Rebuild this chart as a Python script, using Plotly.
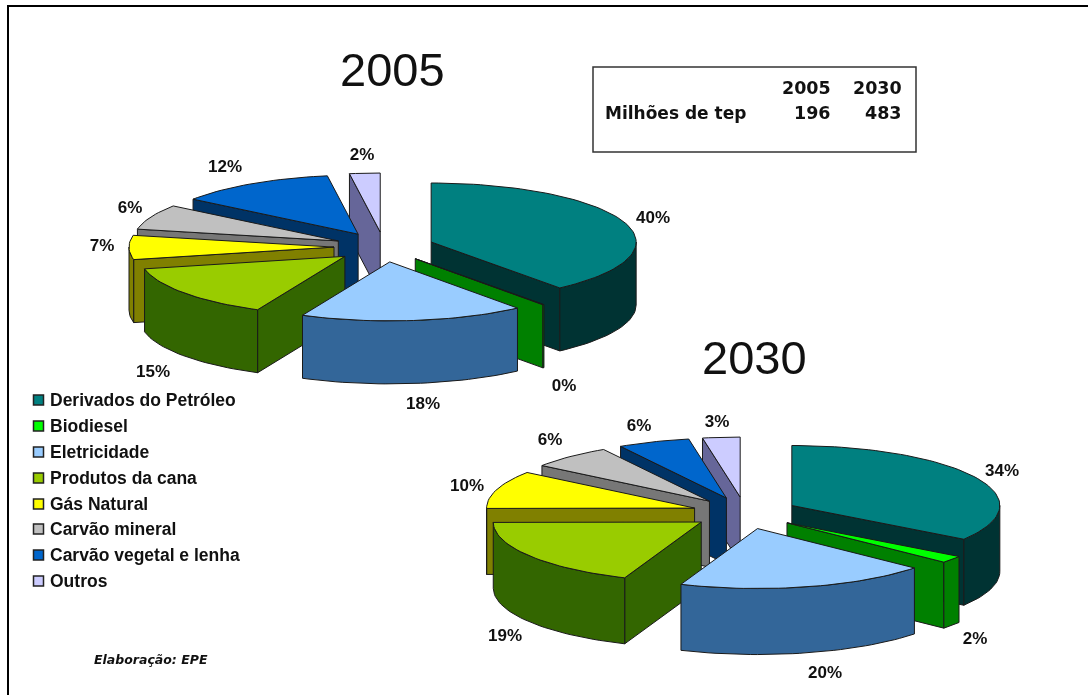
import math
import plotly.graph_objects as go

# ---------- data ----------
categories = ["Derivados do Petróleo", "Biodiesel", "Eletricidade", "Produtos da cana",
              "Gás Natural", "Carvão mineral", "Carvão vegetal e lenha", "Outros"]
values_2005 = [39.2, 0.1, 17.7, 14.6, 6.6, 6.9, 12.5, 2.4]
values_2030 = [34.5, 1.9, 19.6, 18.9, 10.2, 6.4, 5.6, 2.9]
labels_2005 = ["40%", "0%", "18%", "15%", "7%", "6%", "12%", "2%"]
labels_2030 = ["34%", "2%", "20%", "19%", "10%", "6%", "6%", "3%"]
table_years = ["2005", "2030"]
table_values = ["196", "483"]
table_row = "Milhões de tep"
credit = "Elaboração: EPE"

# ---------- style ----------
top_colors = ["#008080", "#00FF00", "#99CCFF", "#99CC00", "#FFFF00", "#C0C0C0", "#0066CC", "#CCCCFF"]
side_colors = ["#003333", "#008000", "#336699", "#336600", "#808000", "#777777", "#003366", "#666699"]
paint_order = [7, 6, 5, 4, 3, 0, 1, 2]
EDGE = "#1a1a1a"
TEXT = "#111111"
SANS = "Liberation Sans"
WIDE = "DejaVu Sans"

geom_2005 = dict(cx=384, cy=247, rx=205, ry=59, ex=50, ey=15, depth=63)
geom_2030 = dict(cx=745, cy=513, rx=208, ry=60, ex=53, ey=16, depth=66)
label_pos_2005 = [(653, 218.5), (564, 386.5), (423, 404.5), (153, 372.5), (102, 246.5), (130, 208.5), (225, 167.5), (362, 155.5)]
label_pos_2030 = [(1002, 471.5), (975, 639.5), (825, 673.5), (505, 636.5), (467, 486.5), (550, 440.5), (639, 426.5), (717, 422.5)]

fig = go.Figure()


def poly(xs, ys, color):
    fig.add_trace(go.Scatter(x=xs + xs[:1], y=ys + ys[:1], mode="lines", fill="toself",
                             fillcolor=color, line=dict(color=EDGE, width=1),
                             hoverinfo="skip", showlegend=False))


def arc(ax, ay, g, a0, a1):
    n = max(2, int(abs(a1 - a0) / 2) + 2)
    ts = [math.radians(a0 + (a1 - a0) * i / (n - 1)) for i in range(n)]
    return [ax + g["rx"] * math.sin(t) for t in ts], [ay - g["ry"] * math.cos(t) for t in ts]


def draw_pie(values, g):
    total = sum(values)
    bounds = [0.0]
    for v in values:
        bounds.append(bounds[-1] + v / total * 360)
    for i in paint_order:
        a0, a1 = bounds[i], bounds[i + 1]
        mid = math.radians((a0 + a1) / 2)
        ax = g["cx"] + g["ex"] * math.sin(mid)
        ay = g["cy"] - g["ey"] * math.cos(mid)
        d = g["depth"]
        # start-side radial wall
        if 180 <= a0 < 360:
            xs, ys = arc(ax, ay, g, a0, a0)
            poly([ax, xs[0], xs[0], ax], [ay, ys[0], ys[0] + d, ay + d], side_colors[i])
        # end-side radial wall
        if 0 < a1 <= 180:
            xs, ys = arc(ax, ay, g, a1, a1)
            poly([ax, xs[0], xs[0], ax], [ay, ys[0], ys[0] + d, ay + d], side_colors[i])
        # outer rim
        r0, r1 = max(a0, 90), min(a1, 270)
        if r1 > r0:
            xs, ys = arc(ax, ay, g, r0, r1)
            poly(xs + xs[::-1], ys + [y + d for y in ys[::-1]], side_colors[i])
        # top face
        xs, ys = arc(ax, ay, g, a0, a1)
        poly([ax] + xs, [ay] + ys, top_colors[i])


draw_pie(values_2005, geom_2005)
draw_pie(values_2030, geom_2030)

# percentage labels
for labs, pos in ((labels_2005, label_pos_2005), (labels_2030, label_pos_2030)):
    fig.add_trace(go.Scatter(x=[p[0] for p in pos], y=[p[1] for p in pos], text=labs, mode="text",
                             textposition="middle center",
                             textfont=dict(family=SANS, size=17, color=TEXT, weight="bold"),
                             hoverinfo="skip", showlegend=False))

# legend
legend_y = [400, 426, 452, 478, 504, 529, 555, 581]
fig.add_trace(go.Scatter(x=[38.5] * 8, y=legend_y, mode="markers",
                         marker=dict(symbol="square", size=10, color=top_colors,
                                     line=dict(color="#222222", width=1.5)),
                         hoverinfo="skip", showlegend=False))
fig.add_trace(go.Scatter(x=[50] * 8, y=[y + 2 for y in legend_y], text=categories, mode="text",
                         textposition="middle right",
                         textfont=dict(family=SANS, size=17.5, color=TEXT, weight="bold"),
                         hoverinfo="skip", showlegend=False))

ann = []


def note(x, y, text, size, family=SANS, anchor="center", bold=False, italic=False):
    ann.append(dict(x=x, y=y, xref="x", yref="y", text=text, showarrow=False, xanchor=anchor, yanchor="middle",
                    font=dict(family=family, size=size, color=TEXT, weight="bold" if bold else "normal",
                              style="italic" if italic else "normal")))


note(392, 69, "2005", 47)
note(754, 357, "2030", 47)
note(603, 113, table_row, 17, WIDE, "left", bold=True)
note(833, 88, table_years[0], 17.5, WIDE, "right", bold=True)
note(904, 88, table_years[1], 17.5, WIDE, "right", bold=True)
note(833, 113, table_values[0], 17.5, WIDE, "right", bold=True)
note(904, 113, table_values[1], 17.5, WIDE, "right", bold=True)
note(92, 659, credit, 12.5, WIDE, "left", bold=True, italic=True)

shapes = [
    dict(type="line", xref="x", yref="y", x0=8, x1=8, y0=5, y1=695, line=dict(color="black", width=2)),
    dict(type="line", xref="x", yref="y", x0=7, x1=1088, y0=6, y1=6, line=dict(color="black", width=2)),
    dict(type="rect", xref="x", yref="y", x0=593, x1=916, y0=67, y1=152, line=dict(color="#333333", width=1.5)),
]

fig.update_layout(
    width=1088, height=695, margin=dict(l=0, r=0, t=0, b=0),
    paper_bgcolor="white", plot_bgcolor="white", showlegend=False,
    xaxis=dict(range=[0, 1088], visible=False, fixedrange=True),
    yaxis=dict(range=[695, 0], visible=False, fixedrange=True),
    annotations=ann, shapes=shapes,
)
fig.write_html("out.html", config=dict(displayModeBar=False),
               post_script="document.body.style.margin='0';document.body.style.overflow='hidden';"
                           "document.querySelector('.plotly-graph-div').style.filter='blur(0.5px)';")
